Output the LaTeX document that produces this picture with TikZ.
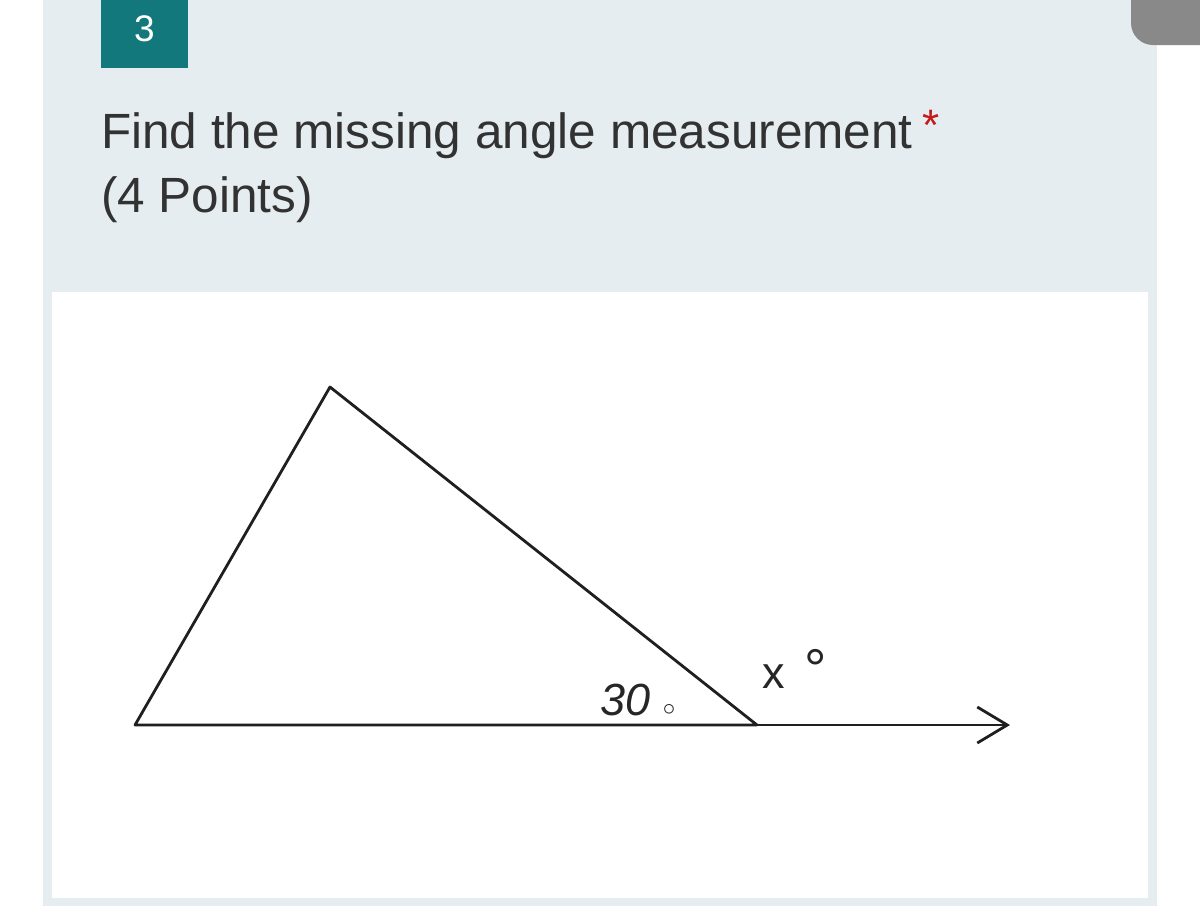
\documentclass[tikz,border=0pt]{standalone}
\usepackage{fontspec}
\setmainfont{Liberation Sans}
\usetikzlibrary{arrows.meta}
\definecolor{panelblue}{HTML}{E6EDF1}
\definecolor{tealbox}{HTML}{13787B}
\definecolor{tabgray}{HTML}{898989}
\definecolor{qtext}{HTML}{323232}
\definecolor{starred}{HTML}{C41A1A}
\tikzstyle{question} = [anchor=base west, inner sep=0pt, text=qtext, font=\fontsize{49.5}{58}\selectfont]
\tikzstyle{side} = [line width=2.8pt, black!88, line join=round]
\tikzstyle{ray} = [side, -{Straight Barb[length=30pt, width=36pt, line width=2.8pt]}]
\tikzstyle{anglabel} = [anchor=base west, inner sep=0pt, text=black!85, font=\fontsize{45}{52}\selectfont]

\begin{document}
\begin{tikzpicture}[x=1pt, y=-1pt]

\clip (0,0) rectangle (1200,914);
\fill[white] (0,0) rectangle (1200,914);
\fill[panelblue] (43,-5) rectangle (1157,906);
\fill[white] (52,292) rectangle (1148,898);
\fill[tabgray, rounded corners=22pt] (1131,-30) rectangle (1240,45);

\fill[tealbox] (101,0) rectangle (188,68);
\node (num) [anchor=base, inner sep=0pt, text=white, font=\fontsize{37}{40}\selectfont] at (144.5,41) {3};
\node (title) [question] at (101,148) {Find the missing angle measurement};
\node (star) [anchor=base west, inner sep=0pt, text=starred, font=\fontsize{44}{50}\selectfont] at ([xshift=9pt, yshift=8pt]title.base east) {*};
\node (points) [question] at (101,212) {(4 Points)};

% triangle and its extended side
\coordinate (a) at (135,725);
\coordinate (b) at (330,387);
\coordinate (c) at (757,725);
\coordinate (d) at (1010,725);
\draw [side] (c) -- (a) -- (b) -- (c);
\draw [ray] (c) -- (d);

\node (inner) [anglabel] at (600,715) {\textit{30} {\fontsize{60}{60}\selectfont$\circ$}};
\node (outer) [anglabel] at (762,688) {x\hspace{20pt}{\fontsize{56}{56}\selectfont °}};

\end{tikzpicture}
\end{document}
